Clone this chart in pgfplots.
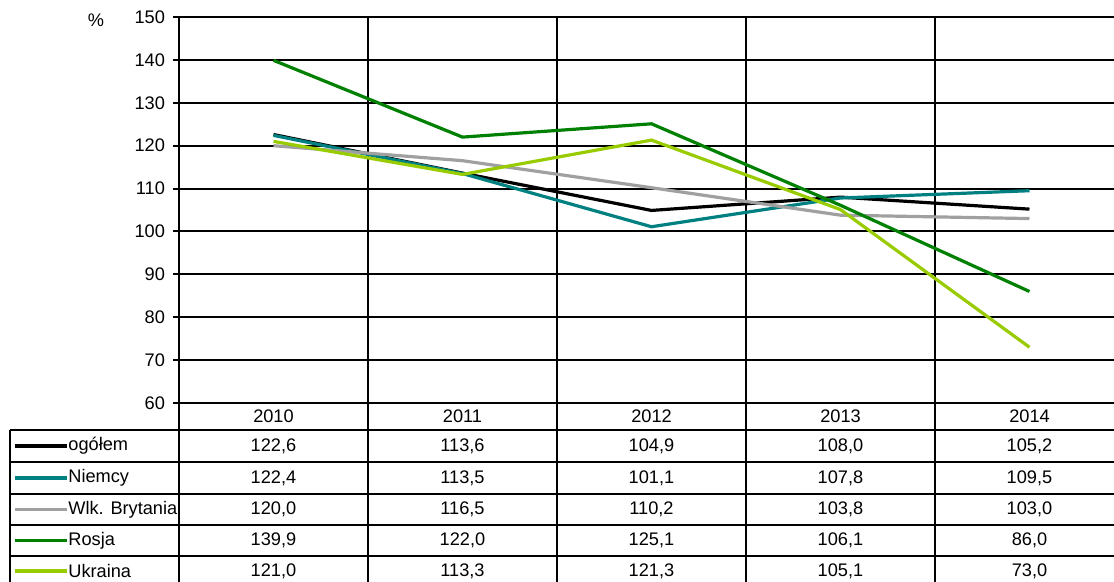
\documentclass[border=0pt]{standalone}
\usepackage{fontspec}
\setmainfont{Liberation Sans}
\usepackage{pgfplots}
\pgfplotsset{compat=1.18}
\definecolor{cteal}{RGB}{0,128,128}
\definecolor{cgray}{RGB}{160,160,160}
\definecolor{cgreen}{RGB}{0,128,0}
\definecolor{clime}{RGB}{153,204,0}
\newcommand\tabrow[8]{%
  \draw[#2, line width=1.6pt] (15,#1) -- (67,#1);
  \node[anchor=west, inner sep=0pt] at (68,#1) {#3};
  \node at (273.5,#1) {#4};
  \node at (462.5,#1) {#5};
  \node at (651.5,#1) {#6};
  \node at (840.5,#1) {#7};
  \node at (1029.5,#1) {#8};
}
\begin{document}
\begin{tikzpicture}[x=0.5pt,y=-0.5pt, font=\fontsize{9.1}{10}\selectfont]
\useasboundingbox (0,0) rectangle (1114,582);
\begin{axis}[
  at={(89.5pt,-201.5pt)}, anchor=south west,
  scale only axis, width=472.5pt, height=193pt,
  xmin=-0.5, xmax=4.5, ymin=60, ymax=150,
  xtick={0.5,1.5,2.5,3.5}, xticklabels={},
  xmajorgrids, ymajorgrids,
  ytick={60,70,...,150},
  major grid style={black, line width=1pt},
  axis line style={black, line width=1pt},
  x tick style={draw=none},
  y tick style={black, line width=1pt},
  tick align=outside, major tick length=3pt,
  /pgf/number format/assume math mode=true,
  tick label style={font=\fontsize{9.1}{10}\selectfont},
  yticklabel style={xshift=-0.5pt},
  clip=false,
]
\addplot[black, line width=1.6pt] coordinates {(0,122.6) (1,113.6) (2,104.9) (3,108.0) (4,105.2)};
\addplot[cteal, line width=1.6pt] coordinates {(0,122.4) (1,113.5) (2,101.1) (3,107.8) (4,109.5)};
\addplot[cgray, line width=1.6pt] coordinates {(0,120.0) (1,116.5) (2,110.2) (3,103.8) (4,103.0)};
\addplot[cgreen, line width=1.6pt] coordinates {(0,139.9) (1,122.0) (2,125.1) (3,106.1) (4,86.0)};
\addplot[clime, line width=1.6pt] coordinates {(0,121.0) (1,113.3) (2,121.3) (3,105.1) (4,73.0)};
\end{axis}
\node at (96,20) {\%};
% table lines
\draw[black, line width=1pt] (179,403) -- (179,600);
\foreach \xx in {368,557,746,935} {\draw[black, line width=1pt] (\xx,403) -- (\xx,600);}
\draw[black, line width=1pt] (10,430) -- (10,600);
\foreach \yy in {430,462,494,525,556} {\draw[black, line width=0.8pt] (10,\yy) -- (1130,\yy);}
% header
\node at (273.5,416.5) {2010};
\node at (462.5,416.5) {2011};
\node at (651.5,416.5) {2012};
\node at (840.5,416.5) {2013};
\node at (1029.5,416.5) {2014};
\tabrow{446}{black}{ogółem}{122,6}{113,6}{104,9}{108,0}{105,2}
\tabrow{478}{cteal}{Niemcy}{122,4}{113,5}{101,1}{107,8}{109,5}
\tabrow{509.5}{cgray}{Wlk. Brytania}{120,0}{116,5}{110,2}{103,8}{103,0}
\tabrow{540.5}{cgreen}{Rosja}{139,9}{122,0}{125,1}{106,1}{86,0}
\tabrow{571}{clime}{Ukraina}{121,0}{113,3}{121,3}{105,1}{73,0}
\end{tikzpicture}
\end{document}
